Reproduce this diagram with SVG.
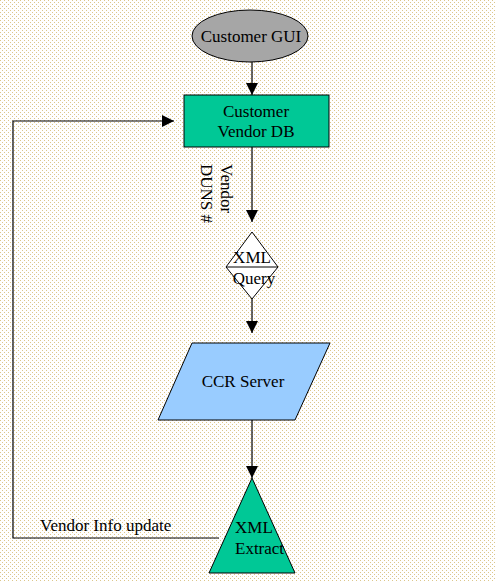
<svg xmlns="http://www.w3.org/2000/svg" width="495" height="582" viewBox="0 0 495 582">
<style>
text{font-family:"Liberation Serif","Times New Roman",serif;font-size:17px;fill:#000}
.s{stroke:#000;stroke-width:1}
.c{stroke:#000;stroke-width:1.2;fill:none}
</style>
<defs>
<pattern id="dots" width="4" height="4" patternUnits="userSpaceOnUse">
<rect width="4" height="4" fill="#fff"/>
<rect x="0" y="0" width="1" height="1" fill="#dcc68a"/>
<rect x="2" y="2" width="1" height="1" fill="#dcc68a"/>
</pattern>
<marker id="ah" viewBox="0 0 10 10" refX="10" refY="5" markerWidth="12" markerHeight="12" markerUnits="userSpaceOnUse" orient="auto">
<path d="M0,0 L10,5 L0,10 z" fill="#000"/>
</marker>
</defs>
<rect width="495" height="582" fill="url(#dots)"/>
<g id="connectors">
<line class="c" x1="252" y1="62" x2="252" y2="95" marker-end="url(#ah)"/>
<line class="c" x1="252" y1="147" x2="252" y2="222" marker-end="url(#ah)"/>
<line class="c" x1="252" y1="299" x2="252" y2="333" marker-end="url(#ah)"/>
<line class="c" x1="252" y1="420" x2="252" y2="478" marker-end="url(#ah)"/>
<polyline class="c" points="219,538 13,538 13,121 174,121" marker-end="url(#ah)"/>
<text x="40" y="531">Vendor Info update</text>
<text transform="translate(221,164) rotate(90)">Vendor</text>
<text transform="translate(201,164) rotate(90)">DUNS #</text>
</g>
<g id="customer-gui">
<ellipse class="s" cx="250" cy="36" rx="58" ry="26" fill="#a6a6a6"/>
<text x="251" y="42" text-anchor="middle">Customer GUI</text>
</g>
<g id="customer-vendor-db">
<rect class="s" x="184" y="95" width="145" height="52" fill="#00c896"/>
<text x="256" y="117" text-anchor="middle">Customer</text>
<text x="256" y="137" text-anchor="middle">Vendor DB</text>
</g>
<g id="xml-query">
<polygon class="s" points="252,232 278,267 252,299 226,267" fill="#fff"/>
<line class="s" x1="226" y1="267" x2="278" y2="267"/>
<text x="252" y="263" text-anchor="middle">XML</text>
<text x="254" y="284" text-anchor="middle">Query</text>
</g>
<g id="ccr-server">
<polygon class="s" points="192,343 330,343 295,420 158,420" fill="#99ccff"/>
<text x="243" y="387" text-anchor="middle">CCR Server</text>
</g>
<g id="xml-extract">
<polygon class="s" points="252,478 295,573 209,573" fill="#00c896"/>
<text x="235" y="533">XML</text>
<text x="235" y="554">Extract</text>
</g>
</svg>
